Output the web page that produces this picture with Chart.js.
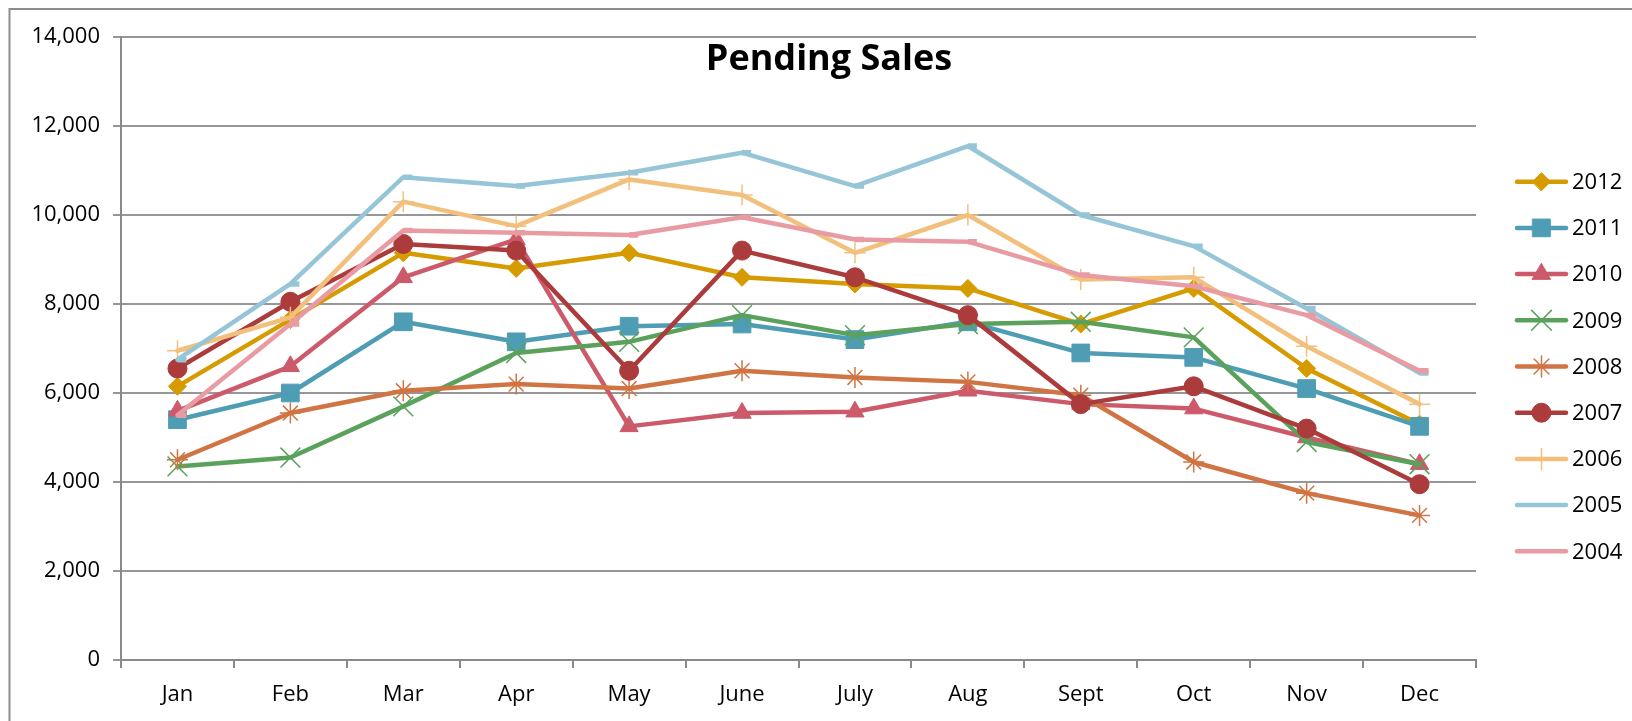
<!DOCTYPE html>
<html>
<head>
<meta charset="utf-8">
<title>Pending Sales</title>
<script src="https://cdn.jsdelivr.net/npm/chart.js@4.4.0/dist/chart.umd.min.js"></script>
<style>
  html, body { margin: 0; padding: 0; background: #fff; }
  #wrap { width: 1632px; height: 721px; }
</style>
</head>
<body>
<div id="wrap"><canvas id="salesChart" width="1632" height="721"></canvas></div>
<script>
/* Pending Sales by month, one line per year */

const MONTHS = ['Jan', 'Feb', 'Mar', 'Apr', 'May', 'June', 'July', 'Aug', 'Sept', 'Oct', 'Nov', 'Dec'];
const YEARS = ['2012', '2011', '2010', '2009', '2008', '2007', '2006', '2005', '2004'];

const SALES_2012 = [6150, 7650, 9150, 8800, 9150, 8600, 8450, 8350, 7550, 8350, 6550, 5300];
const SALES_2011 = [5400, 6000, 7600, 7150, 7500, 7550, 7200, 7600, 6900, 6800, 6100, 5250];
const SALES_2010 = [5600, 6600, 8600, 9450, 5250, 5550, 5580, 6050, 5750, 5650, 5000, 4400];
const SALES_2009 = [4350, 4550, 5700, 6900, 7150, 7750, 7300, 7550, 7600, 7250, 4900, 4400];
const SALES_2008 = [4500, 5550, 6050, 6200, 6100, 6500, 6350, 6250, 5950, 4450, 3750, 3250];
const SALES_2007 = [6550, 8050, 9350, 9200, 6500, 9200, 8600, 7750, 5750, 6150, 5200, 3950];
const SALES_2006 = [6950, 7700, 10300, 9750, 10800, 10450, 9150, 10000, 8550, 8600, 7050, 5750];
const SALES_2005 = [6750, 8450, 10850, 10650, 10950, 11400, 10650, 11550, 10000, 9300, 7900, 6450];
const SALES_2004 = [5500, 7550, 9650, 9600, 9550, 9950, 9450, 9400, 8650, 8400, 7750, 6500];

const Y_MIN = 0;
const Y_MAX = 14000;
const Y_STEP = 2000;

const SERIES = [SALES_2012, SALES_2011, SALES_2010, SALES_2009, SALES_2008, SALES_2007, SALES_2006, SALES_2005, SALES_2004];

const STYLE = {
    '2012': { color: '#d69b00', point: 'rectRot', r: 9, bw: 1 },
    '2011': { color: '#4f9db4', point: 'rect', r: 12.5, bw: 1 },
    '2010': { color: '#cc5a6a', point: 'triangle', r: 10.5, bw: 1 },
    '2009': { color: '#5aa25c', point: 'crossRot', r: 14, bw: 1.5 },
    '2008': { color: '#d07443', point: 'star', r: 10.5, bw: 1.5 },
    '2007': { color: '#ac3b3b', point: 'circle', r: 9.5, bw: 1 },
    '2006': { color: '#f2c07c', point: 'cross', r: 10.5, bw: 1.5 },
    '2005': { color: '#95c5d7', point: 'dash', r: 9, bw: 5.5 },
    '2004': { color: '#e99ba4', point: 'dash', r: 9, bw: 5.5 },
};

const FONT = "'Open Sans', 'DejaVu Sans', sans-serif";
const AXIS_GREY = '#8a8a8a';
const GRID_GREY = '#979797';

const datasets = YEARS.map((year, i) => {
    const s = STYLE[year];
    return {
        label: year,
        data: SERIES[i],
        order: YEARS.length - i,
        borderColor: s.color,
        backgroundColor: s.color,
        borderWidth: 4.5,
        borderJoinStyle: 'round',
        borderCapStyle: 'round',
        tension: 0,
        pointStyle: s.point,
        pointRadius: s.r,
        pointHoverRadius: s.r,
        pointBackgroundColor: s.color,
        pointBorderColor: s.color,
        pointBorderWidth: s.bw,
    };
});

// outer frame + white background
const framePlugin = {
    id: 'frame',
    beforeDraw(chart) {
        const ctx = chart.ctx;
        ctx.save();
        ctx.fillStyle = '#fff';
        ctx.fillRect(0, 0, chart.width, chart.height);
        ctx.strokeStyle = '#8c8c8c';
        ctx.lineWidth = 2;
        ctx.strokeRect(9.5, 9, chart.width + 20, chart.height + 20);
        ctx.restore();
    },
};

// title sits inside the plot, Excel style
const titlePlugin = {
    id: 'overlayTitle',
    afterDraw(chart) {
        const ctx = chart.ctx;
        ctx.save();
        ctx.font = "bold 36px " + FONT;
        ctx.fillStyle = '#000';
        ctx.textAlign = 'center';
        ctx.textBaseline = 'alphabetic';
        ctx.fillText('Pending Sales', 829, 70);
        ctx.restore();
    },
};

// legend: line with marker in the middle, like the spreadsheet legend
const legendPlugin = {
    id: 'lineLegend',
    afterDraw(chart) {
        const ctx = chart.ctx;
        const x0 = 1517, x1 = 1566, xm = 1541.5, xt = 1572;
        const top = 181.7, gap = 46.2;
        ctx.save();
        chart.data.datasets.forEach((ds, i) => {
            const y = top + i * gap;
            ctx.strokeStyle = ds.borderColor;
            ctx.lineWidth = 4.5;
            ctx.lineCap = 'round';
            ctx.beginPath();
            ctx.moveTo(x0, y);
            ctx.lineTo(x1, y);
            ctx.stroke();
            if (ds.pointStyle !== 'dash') {
                ctx.fillStyle = ds.pointBackgroundColor;
                ctx.strokeStyle = ds.pointBorderColor;
                ctx.lineWidth = ds.pointBorderWidth;
                Chart.helpers.drawPoint(ctx, {
                    pointStyle: ds.pointStyle,
                    radius: ds.pointRadius,
                    rotation: 0,
                    borderWidth: ds.pointBorderWidth,
                }, xm, y);
            }
            ctx.fillStyle = '#000';
            ctx.font = "22px " + FONT;
            ctx.textAlign = 'left';
            ctx.textBaseline = 'middle';
            ctx.fillText(ds.label, xt, y + 1);
        });
        ctx.restore();
    },
};

new Chart(document.getElementById('salesChart'), {
    type: 'line',
    data: { labels: MONTHS, datasets },
    plugins: [framePlugin, titlePlugin, legendPlugin],
    options: {
        responsive: false,
        devicePixelRatio: 1,
        animation: false,
        events: [],
        layout: { padding: { left: 0, top: 37, right: 156, bottom: 0 } },
        plugins: {
            legend: { display: false },
            title: { display: false },
            tooltip: { enabled: false },
        },
        scales: {
            x: {
                offset: true,
                grid: {
                    offset: true,
                    drawOnChartArea: false,
                    drawTicks: true,
                    tickLength: 8,
                    color: AXIS_GREY,
                    lineWidth: 2,
                },
                border: { display: true, color: AXIS_GREY, width: 2 },
                ticks: {
                    color: '#000',
                    font: { family: FONT, size: 22 },
                    padding: 14,
                    maxRotation: 0,
                    autoSkip: false,
                },
                afterFit(scale) { scale.height = 61; },
            },
            y: {
                min: Y_MIN,
                max: Y_MAX,
                ticks: {
                    stepSize: Y_STEP,
                    color: '#000',
                    font: { family: FONT, size: 22 },
                    padding: 13,
                },
                grid: {
                    color: GRID_GREY,
                    lineWidth: 2,
                    tickLength: 8,
                    drawTicks: true,
                },
                border: { display: true, color: AXIS_GREY, width: 2 },
                afterFit(scale) { scale.width = 121; },
            },
        },
    },
});
</script>
</body>
</html>
